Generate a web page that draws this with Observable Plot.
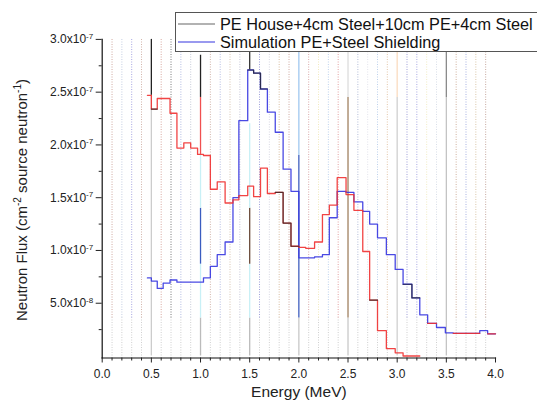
<!DOCTYPE html>
<html>
<head>
<meta charset="utf-8">
<script src="https://cdn.jsdelivr.net/npm/d3@7"></script>
<script src="https://cdn.jsdelivr.net/npm/@observablehq/plot@0.6"></script>
<style>
  html, body { margin: 0; padding: 0; background: #fff; overflow: hidden; }
  #wrap { position: relative; width: 537px; height: 406px; overflow: hidden; }
  #legend { position: absolute; left: 175px; top: 12px; }
</style>
</head>
<body>
<div id="wrap"><div id="chart"></div><div id="legend"></div></div>
<script>
// ---- data (flux in units of 1e-7 cm^-2 per source neutron) ----
const edges = [0.46,0.50,0.56,0.62,0.69,0.76,0.83,0.90,0.97,1.03,1.10,1.17,1.25,1.33,1.39,1.48,1.54,1.61,1.68,1.76,1.84,1.92,2.00,2.07,2.16,2.24,2.31,2.39,2.48,2.56,2.65,2.72,2.80,2.89,2.98,3.06,3.15,3.23,3.31,3.40,3.49,3.57,3.66,3.75,3.84,3.92,4.00];

const simFlux = [0.74,0.71,0.64,0.69,0.72,0.70,0.70,0.70,0.70,0.74,0.85,0.96,1.08,1.50,2.23,2.71,2.68,2.53,2.31,2.12,1.77,1.56,0.93,0.93,0.94,0.96,1.31,1.56,1.55,1.46,1.37,1.25,1.12,0.96,0.82,0.68,0.55,0.39,0.31,0.27,0.22,0.215,0.215,0.215,0.24,0.21];

const redFlux = [2.47,2.34,2.44,2.44,2.30,1.97,2.02,1.97,1.91,1.90,1.58,1.65,1.45,1.48,1.52,1.61,1.51,1.78,1.54,1.55,1.26,1.04,1.03,1.02,1.08,1.34,1.43,1.69,1.53,1.38,0.99,0.53,0.24,0.07,0.03,0.0,0.0,null,0.31,null,null,0.215,0.215,0.215,null,0.21];

const peFlux = [null,2.34,null,null,null,null,null,null,null,null,null,null,null,null,null,2.71,2.68,2.53,null,1.55,1.26,1.04,null,null,null,null,null,null,null,null,null,0.53,null,null,null,0.68,0.55,null,null,null,null,null,null,null,null,null];

const xMajor = [0,0.5,1.0,1.5,2.0,2.5,3.0,3.5,4.0];
const xMinor = [0.1,0.2,0.3,0.4,0.6,0.7,0.8,0.9,1.1,1.2,1.3,1.4,1.6,1.7,1.8,1.9,2.1,2.2,2.3,2.4,2.6,2.7,2.8,2.9,3.1,3.2,3.3,3.4,3.6,3.7,3.8,3.9];
const yMajor = [0.5,1.0,1.5,2.0,2.5,3.0];
const yTickLabels = ["5.0x10|-8","1.0x10|-7","1.5x10|-7","2.0x10|-7","2.5x10|-7","3.0x10|-7"];
const yMinor = [0.25,0.75,1.25,1.75,2.25,2.75];

// dotted vertical guide lines (energies) and their tints
const guideE = xMinor;
const guideColor = ["#b07060","#a0b0d0","#6a6ad0","#b08070","#c07060","#222222","#8090d0","#a0a8c0",
  "#b08070","#8090d0","#c0a080","#a0a0c0","#5a5ac0","#c0c0d0","#c09060","#b07060","#c07070","#e8d890",
  "#90b0e0","#d06060","#8090c0","#d0d0e0","#90b0e0","#d0a070","#6060c0","#7070d0","#e8e0a0","#c0c8d8",
  "#b08060","#7080d0","#c0a070","#a07060"];

// solid drop lines at major energies: energy, lower and upper flux
const dropE  = [0.5, 0.5, 1.0, 1.0, 1.0, 1.0, 1.0, 1.0, 1.5, 1.5, 1.5, 1.5, 1.5, 2.0, 2.0, 2.0, 2.5, 2.5, 2.5, 3.0, 3.0, 3.5, 3.5];
const dropLo = [0.0, 2.47,0.0, 0.36,0.87,1.40,1.91,2.45,0.0, 0.36,0.87,1.40,2.71,0.0, 0.36,1.90,0.0, 0.36,2.45,0.0, 2.45,0.0, 2.45];
const dropHi = [2.47,3.0, 0.36,0.87,1.40,1.91,2.45,2.85,0.36,0.87,1.40,2.20,3.0, 0.36,1.90,2.90,0.36,2.45,2.90,2.45,2.90,2.45,2.90];
const dropColor = ["#cccccc","#222222","#bbbbbb","#c8f0f6","#3a5cc0","#c8f0f6","#f05050","#222222","#bbbbbb","#c8f0f6","#6a4a3a","#c8f0f6","#333333","#c8c8c8","#4060c0","#a0c8f0","#c8c8c8","#a08060","#dddddd","#d0d0d0","#fbdcc0","#c4c4c4","#8a8a8a"];

const legendItems = ["PE House+4cm Steel+10cm PE+4cm Steel","Simulation PE+Steel Shielding"];
const legendColors = ["#666666","#3535e0"];

function steps(vals) {
  const pts = [];
  for (let i = 0; i < vals.length; i++) {
    const v = vals[i];
    if (v == null) continue;
    pts.push({x: edges[i], y: v});
    if (i + 1 >= vals.length || vals[i + 1] == null) {
      pts.push({x: edges[i + 1], y: v});
      pts.push({x: edges[i + 1], y: NaN});
    }
  }
  return pts;
}

const idx = d3.range(dropE.length);

const chart = Plot.plot({
  width: 537,
  height: 406,
  marginLeft: 101.7,
  marginRight: 42,
  marginTop: 38.9,
  marginBottom: 48.5,
  x: {domain: [0, 4], range: [101.7, 495]},
  y: {domain: [0, 3], range: [355.5, 38.9]},
  style: {fontFamily: "'Liberation Sans', Arial, sans-serif", fontSize: "12px", color: "#222", background: "#fff"},
  marks: [
    Plot.ruleX(guideE, {y1: 0, y2: 0.36, stroke: "#cfcfcf", strokeDasharray: "1,1.5", strokeWidth: 1}),
    Plot.ruleX(guideE, {y1: 0.36, y2: 3.0, stroke: (d, i) => guideColor[i], strokeDasharray: "1,1.5", strokeWidth: 1, strokeOpacity: 0.6}),
    Plot.ruleX(idx, {x: i => dropE[i], y1: i => dropLo[i], y2: i => dropHi[i], stroke: i => dropColor[i], strokeWidth: 1.3}),
    Plot.line(steps(simFlux), {x: "x", y: "y", curve: "step-after", stroke: "#3535e0", strokeWidth: 1.3, strokeOpacity: 0.9}),
    Plot.line(steps(redFlux), {x: "x", y: "y", curve: "step-after", stroke: "#f03030", strokeWidth: 1.3, strokeOpacity: 0.9}),
    Plot.line(steps(peFlux), {x: "x", y: "y", curve: "step-after", stroke: "#202020", strokeWidth: 1.2, strokeOpacity: 0.75}),
    Plot.frame({anchor: "left", stroke: "#111", strokeWidth: 1.2}),
    Plot.frame({anchor: "bottom", stroke: "#111", strokeWidth: 1.2}),
    Plot.axisY({ticks: yMajor, tickSize: 6, tickPadding: 3, tickFormat: d => yTickLabels[yMajor.indexOf(d)], label: null, fontSize: 12}),
    Plot.axisY({ticks: yMinor, tickSize: 3, tickFormat: () => "", label: null}),
    Plot.axisX({ticks: xMajor, tickSize: 5, tickPadding: 6, tickFormat: d => d.toFixed(1), label: null, fontSize: 12}),
    Plot.axisX({ticks: xMinor, tickSize: 3, tickFormat: () => "", label: null}),
    Plot.text(["Energy (MeV)"], {frameAnchor: "bottom", dy: 39, text: d => d, fontSize: 15.5, fill: "#222"})
  ]
});
document.getElementById("chart").appendChild(chart);

const ns = "http://www.w3.org/2000/svg";
// superscript exponents in y tick labels
chart.querySelectorAll('g[aria-label="y-axis tick label"] text').forEach(t => {
  const parts = t.textContent.split("|");
  if (parts.length < 2) return;
  t.textContent = parts[0];
  const s = document.createElementNS(ns, "tspan");
  s.setAttribute("dy", "-4.5");
  s.setAttribute("font-size", "8");
  s.textContent = parts[1];
  t.appendChild(s);
});

// y axis title with superscripts
const yt = document.createElementNS(ns, "text");
yt.setAttribute("transform", "translate(27,200) rotate(-90)");
yt.setAttribute("text-anchor", "middle");
yt.setAttribute("font-size", "15");
yt.setAttribute("fill", "#222");
yt.setAttribute("font-family", "'Liberation Sans', Arial, sans-serif");
const ySegs = [["Neutron Flux (cm", 0, 15], ["-2", -6, 10], [" source neutron", 6, 15], ["-1", -6, 10], [")", 6, 15]];
ySegs.forEach(([txt, dy, fs]) => {
  const s = document.createElementNS(ns, "tspan");
  s.setAttribute("dy", dy);
  s.setAttribute("font-size", fs);
  s.textContent = txt;
  yt.appendChild(s);
});
chart.appendChild(yt);

// legend box
const lg = d3.select("#legend").append("svg").attr("width", 362).attr("height", 42)
  .style("font-family", "'Liberation Sans', Arial, sans-serif");
lg.append("rect").attr("x", 0.5).attr("y", 0.5).attr("width", 400).attr("height", 39)
  .attr("fill", "#fff").attr("stroke", "#555").attr("stroke-width", 1);
legendItems.forEach((name, i) => {
  const cy = 12 + i * 18;
  lg.append("line").attr("x1", 3).attr("x2", 40).attr("y1", cy).attr("y2", cy)
    .attr("stroke", legendColors[i]).attr("stroke-width", 1.2);
  lg.append("text").attr("x", 45).attr("y", cy + 5.5).attr("font-size", 16.3).attr("fill", "#111").text(name);
});
</script>
</body>
</html>
